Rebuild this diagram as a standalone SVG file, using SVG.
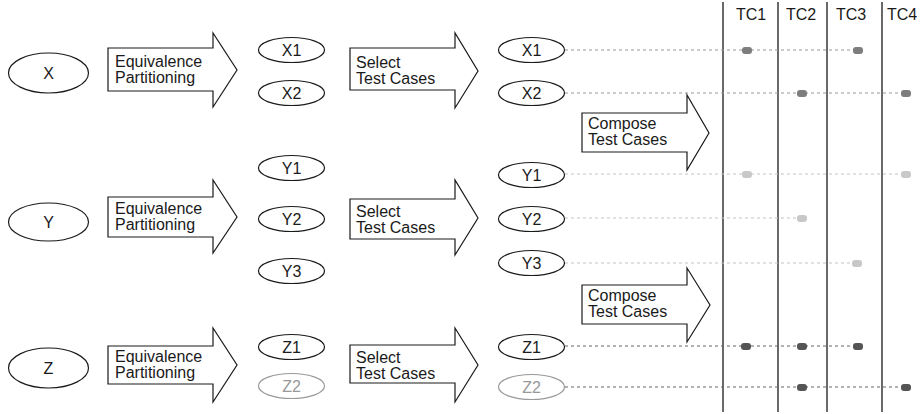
<svg xmlns="http://www.w3.org/2000/svg" width="922" height="414" viewBox="0 0 922 414">
<style>
text{font-family:"Liberation Sans",Arial,sans-serif;font-size:16px;fill:#1a1a1a}
.c{text-anchor:middle}
.e{fill:#fff;stroke:#1a1a1a;stroke-width:1.2}
.g ellipse{stroke:#999}
.g text{fill:#999}
.a{fill:#fff;stroke:#1a1a1a;stroke-width:1.2;stroke-linejoin:miter}
.v{stroke:#1a1a1a;stroke-width:1.3}
.dx{stroke:#999;stroke-width:1.2;stroke-dasharray:3 3;fill:none}
.dy{stroke:#c4c4c4;stroke-width:1.2;stroke-dasharray:3 3;fill:none}
.dz{stroke:#666;stroke-width:1.2;stroke-dasharray:3 3;fill:none}
.px{fill:#7d7d7d}
.py{fill:#c8c8c8}
.pz{fill:#555}
</style>
<g id="tc-columns">
<line class="v" x1="723" y1="2" x2="723" y2="412"/>
<line class="v" x1="778" y1="2" x2="778" y2="412"/>
<line class="v" x1="827" y1="2" x2="827" y2="412"/>
<line class="v" x1="882" y1="2" x2="882" y2="412"/>
<text x="736" y="20">TC1</text>
<text x="786" y="20">TC2</text>
<text x="836" y="20">TC3</text>
<text x="887" y="20">TC4</text>
</g>
<g id="connectors">
<line class="dx" x1="565" y1="50" x2="862" y2="50"/>
<line class="dx" x1="565" y1="93" x2="910" y2="93"/>
<line class="dy" x1="565" y1="174" x2="910" y2="174"/>
<line class="dy" x1="565" y1="218" x2="805" y2="218"/>
<line class="dy" x1="565" y1="263" x2="860" y2="263"/>
<line class="dz" x1="565" y1="346" x2="862" y2="346"/>
<line class="dz" x1="565" y1="387" x2="910" y2="387"/>
</g>
<g id="marks">
<rect class="px" x="742" y="47" width="10" height="7" rx="3"/>
<rect class="px" x="853" y="47" width="10" height="7" rx="3"/>
<rect class="px" x="797" y="90" width="10" height="7" rx="3"/>
<rect class="px" x="901" y="90" width="10" height="7" rx="3"/>
<rect class="py" x="742" y="171" width="10" height="7" rx="3"/>
<rect class="py" x="901" y="171" width="10" height="7" rx="3"/>
<rect class="py" x="797" y="215" width="10" height="7" rx="3"/>
<rect class="py" x="852" y="260" width="10" height="7" rx="3"/>
<rect class="pz" x="741" y="343" width="10" height="7" rx="3"/>
<rect class="pz" x="797" y="343" width="10" height="7" rx="3"/>
<rect class="pz" x="853" y="343" width="10" height="7" rx="3"/>
<rect class="pz" x="797" y="384" width="10" height="7" rx="3"/>
<rect class="pz" x="901" y="384" width="10" height="7" rx="3"/>
</g>
<g id="X"><ellipse class="e" cx="48.5" cy="73" rx="40" ry="20"/><text class="c" x="48.5" y="79">X</text></g>
<g id="Y"><ellipse class="e" cx="48.5" cy="222" rx="40" ry="19"/><text class="c" x="48.5" y="228">Y</text></g>
<g id="Z"><ellipse class="e" cx="48.5" cy="368" rx="40" ry="20"/><text class="c" x="48.5" y="374">Z</text></g>
<g id="ep-x"><path class="a" d="M108,48 L213,48 L213,33 L237,70 L213,107 L213,91 L108,91 Z"/><text x="115" y="67">Equivalence</text><text x="115" y="83">Partitioning</text></g>
<g id="ep-y"><path class="a" d="M108,197 L213,197 L213,180 L237,217 L213,253 L213,237 L108,237 Z"/><text x="115" y="214">Equivalence</text><text x="115" y="230">Partitioning</text></g>
<g id="ep-z"><path class="a" d="M108,346 L213,346 L213,328 L237,365 L213,402 L213,384 L108,384 Z"/><text x="115" y="362">Equivalence</text><text x="115" y="378">Partitioning</text></g>
<g id="X1a"><ellipse class="e" cx="291.5" cy="50" rx="33" ry="12.5"/><text class="c" x="291.5" y="56">X1</text></g>
<g id="X2a"><ellipse class="e" cx="291.5" cy="93" rx="33" ry="12.5"/><text class="c" x="291.5" y="99">X2</text></g>
<g id="Y1a"><ellipse class="e" cx="291.5" cy="168" rx="33" ry="12.5"/><text class="c" x="291.5" y="174">Y1</text></g>
<g id="Y2a"><ellipse class="e" cx="291.5" cy="219" rx="33" ry="12.5"/><text class="c" x="291.5" y="225">Y2</text></g>
<g id="Y3a"><ellipse class="e" cx="291.5" cy="271" rx="33" ry="12.5"/><text class="c" x="291.5" y="277">Y3</text></g>
<g id="Z1a"><ellipse class="e" cx="291.5" cy="347" rx="33" ry="12.5"/><text class="c" x="291.5" y="353">Z1</text></g>
<g id="Z2a" class="g"><ellipse class="e" cx="291.5" cy="386" rx="33" ry="12.5"/><text class="c" x="291.5" y="392">Z2</text></g>
<g id="st-x"><path class="a" d="M350,48 L455,48 L455,33 L478,71 L455,108 L455,90 L350,90 Z"/><text x="356" y="68">Select</text><text x="356" y="84">Test Cases</text></g>
<g id="st-y"><path class="a" d="M350,199 L455,199 L455,180 L478,218 L455,255 L455,239 L350,239 Z"/><text x="356" y="217">Select</text><text x="356" y="233">Test Cases</text></g>
<g id="st-z"><path class="a" d="M350,345 L455,345 L455,328 L478,365 L455,402 L455,383 L350,383 Z"/><text x="356" y="363">Select</text><text x="356" y="379">Test Cases</text></g>
<g id="X1b"><ellipse class="e" cx="531.5" cy="50" rx="33" ry="12.5"/><text class="c" x="531.5" y="56">X1</text></g>
<g id="X2b"><ellipse class="e" cx="531.5" cy="93" rx="33" ry="12.5"/><text class="c" x="531.5" y="99">X2</text></g>
<g id="Y1b"><ellipse class="e" cx="531.5" cy="175" rx="33" ry="12.5"/><text class="c" x="531.5" y="181">Y1</text></g>
<g id="Y2b"><ellipse class="e" cx="531.5" cy="219" rx="33" ry="12.5"/><text class="c" x="531.5" y="225">Y2</text></g>
<g id="Y3b"><ellipse class="e" cx="531.5" cy="263" rx="33" ry="12.5"/><text class="c" x="531.5" y="269">Y3</text></g>
<g id="Z1b"><ellipse class="e" cx="531.5" cy="347" rx="33" ry="12.5"/><text class="c" x="531.5" y="353">Z1</text></g>
<g id="Z2b" class="g"><ellipse class="e" cx="531.5" cy="387" rx="33" ry="12.5"/><text class="c" x="531.5" y="393">Z2</text></g>
<g id="compose-1"><path class="a" d="M582,113 L687,113 L687,95 L709,133 L687,170 L687,152 L582,152 Z"/><text x="588" y="129">Compose</text><text x="588" y="145">Test Cases</text></g>
<g id="compose-2"><path class="a" d="M582,285 L687,285 L687,268 L710,305 L687,342 L687,324 L582,324 Z"/><text x="588" y="301">Compose</text><text x="588" y="317">Test Cases</text></g>
</svg>
